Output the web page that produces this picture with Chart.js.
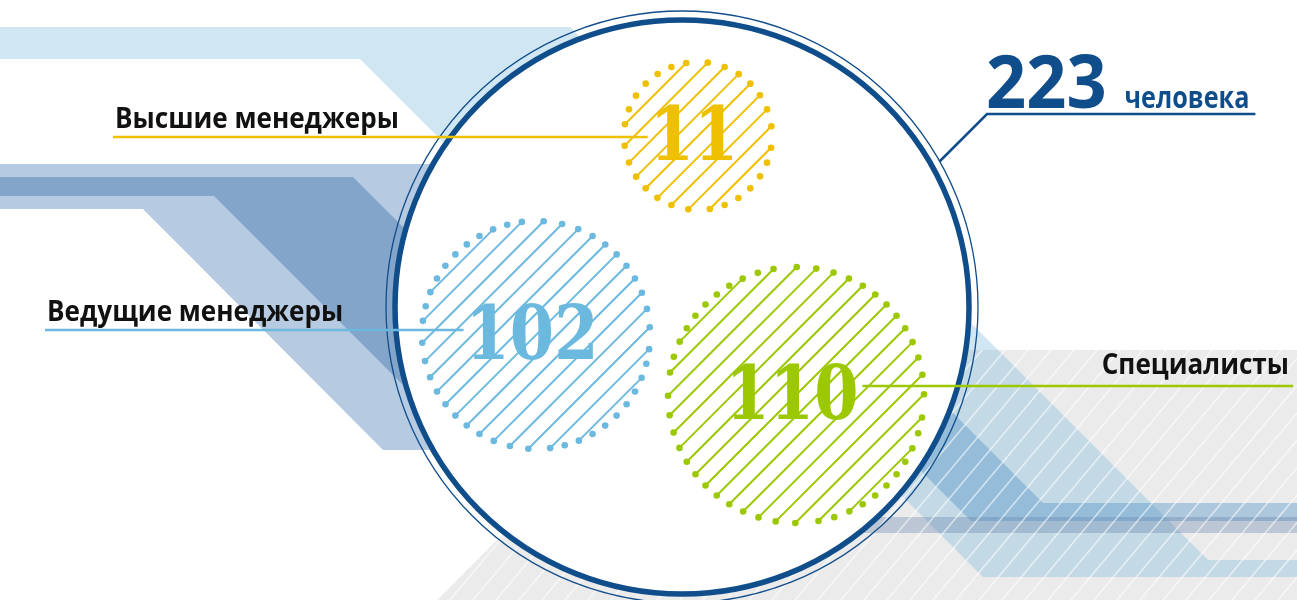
<!DOCTYPE html>
<html>
<head>
<meta charset="utf-8">
<script src="https://cdn.jsdelivr.net/npm/chart.js@4/dist/chart.umd.min.js"></script>
<style>
  html, body { margin: 0; padding: 0; background: #fff; }
  #wrap { width: 1297px; height: 600px; }
</style>
</head>
<body>
<div id="wrap"><canvas id="chart" width="1297" height="600"></canvas></div>
<script>
// data
const categories = ['Высшие менеджеры', 'Ведущие менеджеры', 'Специалисты'];
const headcount = [11, 102, 110];
const unitLabel = 'человека';

// layout (canvas px, the scales map 1:1 onto the canvas)
const W = 1297, H = 600;
const bubbleX = [698, 536, 796];
const bubbleY = [136, 335, 395];
const bubbleR = [74, 114, 128];
const bubbleColors = ['#efc000', '#6cb9e0', '#9cc800'];
const labelSide = ['left', 'left', 'right'];
const labelX = [115, 47, 1289];
const labelY = [128, 321, 374];
const ring = { x: 682, y: 307, r: 287 };
const darkBlue = '#104d8b';

// background shapes
const bands = [
  { c: 'rgba(120,185,220,0.35)', p: [[0,27],[570,27],[820,277],[578,277],[360,59],[0,59]] },
  { c: 'rgba(110,150,195,0.5)',  p: [[0,164],[470,164],[470,450],[383,450],[143,209],[0,209]] },
  { c: 'rgba(70,120,175,0.45)',  p: [[0,177],[353,177],[596,420],[438,420],[214,196],[0,196]] }
];
const grayArea = [[687,350],[1297,350],[1297,600],[437,600]];
const bandsRight = [
  { c: 'rgba(120,185,220,0.35)', p: [[606,200],[848,200],[1208,560],[1297,560],[1297,577],[983,577]] },
  { c: 'rgba(80,145,200,0.4)',   p: [[650,200],[740,200],[1043,503],[1297,503],[1297,521],[971,521]] },
  { c: 'rgba(100,130,170,0.35)', p: [[700,517],[1297,517],[1297,533],[700,533]] }
];

function poly(ctx, pts) {
  ctx.beginPath();
  pts.forEach((p, i) => i ? ctx.lineTo(p[0], p[1]) : ctx.moveTo(p[0], p[1]));
  ctx.closePath();
}

function drawText(ctx, str, x, y, font, color, align, sx) {
  ctx.save();
  ctx.font = font;
  ctx.fillStyle = color;
  ctx.textBaseline = 'alphabetic';
  ctx.textAlign = 'left';
  const w = ctx.measureText(str).width * sx;
  const left = align === 'right' ? x - w : (align === 'center' ? x - w / 2 : x);
  ctx.translate(left, y);
  ctx.scale(sx, 1);
  ctx.fillText(str, 0, 0);
  ctx.restore();
  return { left: left, right: left + w };
}

// hatched bubble with dotted rim
function drawHatch(ctx, cx, cy, r, color) {
  const gap = 15, spacing = 16.5, dotR = 3.3, s = Math.SQRT1_2;
  const angles = [];
  ctx.save();
  ctx.strokeStyle = color;
  ctx.fillStyle = color;
  ctx.lineWidth = 2;
  const n = Math.floor(r / gap);
  for (let k = -n; k <= n; k++) {
    const d = k * gap;
    const h = Math.sqrt(r * r - d * d);
    if (!(h > 12)) continue;
    const mx = cx + d * s, my = cy + d * s;
    const x1 = mx - h * s, y1 = my + h * s;
    const x2 = mx + h * s, y2 = my - h * s;
    ctx.beginPath();
    ctx.moveTo(x1, y1);
    ctx.lineTo(x2, y2);
    ctx.stroke();
    angles.push(Math.atan2(y1 - cy, x1 - cx), Math.atan2(y2 - cy, x2 - cx));
  }
  angles.sort((a, b) => a - b);
  const all = angles.slice();
  for (let i = 0; i < angles.length; i++) {
    const a = angles[i];
    const b = i + 1 < angles.length ? angles[i + 1] : angles[0] + Math.PI * 2;
    const arc = (b - a) * r;
    if (arc > spacing * 1.6) {
      const m = Math.round(arc / spacing);
      for (let j = 1; j < m; j++) all.push(a + (b - a) * j / m);
    }
  }
  all.forEach(a => {
    ctx.beginPath();
    ctx.arc(cx + r * Math.cos(a), cy + r * Math.sin(a), dotR, 0, Math.PI * 2);
    ctx.fill();
  });
  ctx.restore();
}

const backdrop = {
  id: 'backdrop',
  beforeDatasetsDraw(chart) {
    const ctx = chart.ctx;
    const sx = chart.scales.x, sy = chart.scales.y;
    ctx.save();
    ctx.fillStyle = '#fff';
    ctx.fillRect(0, 0, W, H);
    // gray hatched field
    poly(ctx, grayArea);
    ctx.fillStyle = '#ebebeb';
    ctx.fill();
    bands.concat(bandsRight).forEach(b => {
      poly(ctx, b.p);
      ctx.fillStyle = b.c;
      ctx.fill();
    });
    ctx.save();
    poly(ctx, grayArea);
    ctx.clip();
    ctx.strokeStyle = 'rgba(255,255,255,0.6)';
    ctx.lineWidth = 1.5;
    for (let t = -700; t < W + 100; t += 23) {
      ctx.beginPath();
      ctx.moveTo(t, H);
      ctx.lineTo(t + 0.84 * H, 0);
      ctx.stroke();
    }
    ctx.restore();
    // big ring
    const rx = sx.getPixelForValue(ring.x), ry = sy.getPixelForValue(ring.y);
    ctx.beginPath();
    ctx.arc(rx, ry, ring.r - 2, 0, Math.PI * 2);
    ctx.fillStyle = '#fff';
    ctx.fill();
    ctx.beginPath();
    ctx.arc(rx, ry, ring.r, 0, Math.PI * 2);
    ctx.strokeStyle = darkBlue;
    ctx.lineWidth = 5.5;
    ctx.stroke();
    ctx.beginPath();
    ctx.arc(rx, ry, ring.r + 9, 0, Math.PI * 2);
    ctx.lineWidth = 1.3;
    ctx.stroke();
    ctx.restore();
  }
};

const overlay = {
  id: 'overlay',
  afterDatasetsDraw(chart) {
    const ctx = chart.ctx;
    const meta = chart.getDatasetMeta(0);
    const sx = chart.scales.x, sy = chart.scales.y;
    meta.data.forEach((el, i) => {
      drawHatch(ctx, el.x, el.y, el.options.radius, bubbleColors[i]);
    });
    const labelFont = 'bold 29px "Open Sans"';
    const numFont = 'bold 74px "DejaVu Serif"';
    meta.data.forEach((el, i) => {
      const v = String(headcount[i]);
      // measure the number first so the leader line stops at it
      ctx.save();
      ctx.font = numFont;
      const nw = ctx.measureText(v).width * 0.86;
      ctx.restore();
      const ncx = el.x - 4;
      const lx = sx.getPixelForValue(labelX[i]);
      const ly = sy.getPixelForValue(labelY[i]);
      const t = drawText(ctx, categories[i], lx, ly, labelFont, '#111', labelSide[i], 0.9);
      ctx.save();
      ctx.strokeStyle = bubbleColors[i];
      ctx.lineWidth = 2.5;
      ctx.beginPath();
      if (labelSide[i] === 'left') {
        ctx.moveTo(t.left - 2, ly + 9);
        ctx.lineTo(ncx - nw / 2 - 2, ly + 9);
      } else {
        ctx.moveTo(ncx + nw / 2 + 4, ly + 12);
        ctx.lineTo(t.right + 4, ly + 12);
      }
      ctx.stroke();
      ctx.restore();
      drawText(ctx, v, ncx, el.y + 24, numFont, bubbleColors[i], 'center', 0.86);
    });

    // total
    const total = headcount.reduce((a, b) => a + b, 0);
    const tt = drawText(ctx, String(total), 986, 108, 'bold 74px "Open Sans"', darkBlue, 'left', 0.95);
    const ut = drawText(ctx, unitLabel, tt.right + 18, 108, 'bold 30px "Open Sans"', darkBlue, 'left', 0.84);
    const rx = sx.getPixelForValue(ring.x), ry = sy.getPixelForValue(ring.y);
    let px = 987, py = 114;
    while (Math.hypot(px - rx, py - ry) > ring.r + 9) { px -= 0.5; py += 0.5; }
    ctx.save();
    ctx.strokeStyle = darkBlue;
    ctx.lineWidth = 2.5;
    ctx.beginPath();
    ctx.moveTo(px, py);
    ctx.lineTo(987, 114);
    ctx.lineTo(ut.right + 6, 114);
    ctx.stroke();
    ctx.restore();
  }
};

const bubbles = headcount.map((v, i) => ({ x: bubbleX[i], y: bubbleY[i], r: bubbleR[i], v: v }));

new Chart(document.getElementById('chart'), {
  type: 'bubble',
  data: {
    datasets: [{
      label: 'Численность',
      data: bubbles,
      backgroundColor: 'rgba(0,0,0,0)',
      borderWidth: 0,
      hoverRadius: 0
    }]
  },
  options: {
    responsive: false,
    animation: false,
    events: [],
    layout: { autoPadding: false, padding: 0 },
    scales: {
      x: { type: 'linear', min: 0, max: W, display: false },
      y: { type: 'linear', min: 0, max: H, reverse: true, display: false }
    },
    plugins: {
      legend: { display: false },
      tooltip: { enabled: false }
    }
  },
  plugins: [backdrop, overlay]
});
</script>
</body>
</html>
